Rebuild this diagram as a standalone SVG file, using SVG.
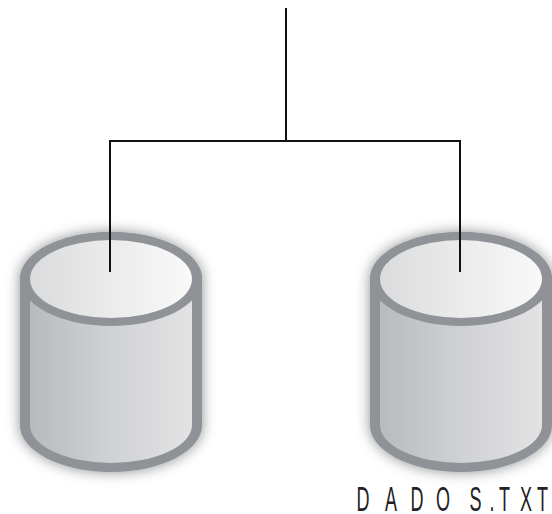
<svg xmlns="http://www.w3.org/2000/svg" xmlns:xlink="http://www.w3.org/1999/xlink" width="552" height="514" viewBox="0 0 552 514">
<style>
.rim{fill:#8f9297}
.body{fill:url(#bodyGrad)}
.lid{fill:url(#lidGrad)}
.shadow{fill:#6f7276;filter:url(#blur);opacity:.8}
.wire{fill:none;stroke:#111;stroke-width:2}
.label{font-family:"Liberation Sans",Arial,sans-serif;font-size:36px;fill:#222}
</style>
<defs>
<linearGradient id="bodyGrad" x1="0" x2="1" y1="0" y2="0"><stop offset="0" stop-color="#b9babd"/><stop offset=".5" stop-color="#d0d1d3"/><stop offset="1" stop-color="#e3e3e4"/></linearGradient>
<linearGradient id="lidGrad" x1="0" x2="1" y1="0" y2="0"><stop offset="0" stop-color="#dadbdc"/><stop offset=".5" stop-color="#ebebec"/><stop offset="1" stop-color="#f9f9f9"/></linearGradient>
<filter id="blur" x="-25%" y="-25%" width="150%" height="150%"><feGaussianBlur stdDeviation="7"/></filter>
<path id="outer" d="M20 279A91 47 0 0 1 202 279V425A91 47 0 0 1 20 425Z"/>
</defs>
<g id="cylinder-left">
<use href="#outer" class="shadow"/>
<use href="#outer" class="rim"/>
<path class="body" d="M30 290H192V425A81 38 0 0 1 30 425Z"/>
<ellipse class="rim" cx="111" cy="279" rx="91" ry="47"/>
<ellipse class="lid" cx="111" cy="279" rx="81" ry="39"/>
</g>
<g id="cylinder-right" transform="translate(350 0)">
<use href="#outer" class="shadow"/>
<use href="#outer" class="rim"/>
<path class="body" d="M30 290H192V425A81 38 0 0 1 30 425Z"/>
<ellipse class="rim" cx="111" cy="279" rx="91" ry="47"/>
<ellipse class="lid" cx="111" cy="279" rx="81" ry="39"/>
</g>
<g id="connectors">
<path class="wire" d="M286 8V141M110 272V141H460V272"/>
</g>
<g id="label-dados">
<text class="label" transform="translate(0 511) scale(.5 1)" x="713 770 821 872 939 979 998 1040 1074" y="0">DADOS.TXT</text>
</g>
</svg>
